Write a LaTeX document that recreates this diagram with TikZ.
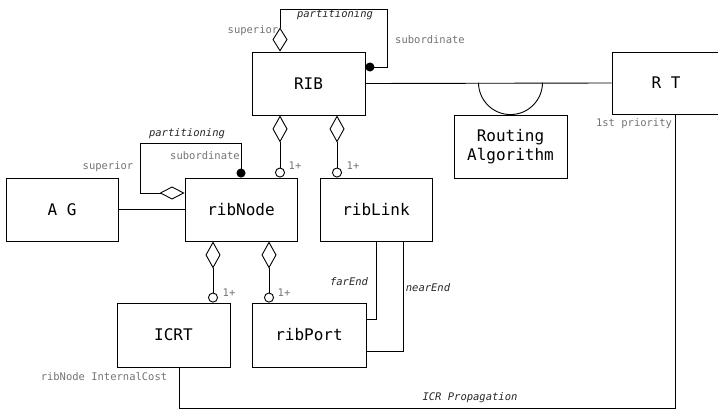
\documentclass[tikz,border=0pt]{standalone}
\usepackage{fontspec}
\setmonofont{DejaVu Sans Mono}
\usetikzlibrary{arrows.meta}
\begin{document}
\begin{tikzpicture}[x=1pt,y=-1pt,line width=0.9pt,
    cls/.style={draw,minimum width=113pt,minimum height=63pt,inner sep=0pt,align=center,font=\ttfamily\fontsize{16}{19}\selectfont},
    role/.style={inner sep=0pt,text=black!55,font=\ttfamily\fontsize{10.5}{12}\selectfont},
    assoc/.style={inner sep=0pt,text=black!85,font=\ttfamily\itshape\fontsize{10.5}{12}\selectfont},
    agg/.style={{Diamond[open,length=27pt,width=15pt]}-{Circle[open,length=10pt]}}]
\useasboundingbox (0,0) rectangle (718,410);
\node[cls] (RIB) at (308.5,83.5) {RIB};
\node[cls,minimum width=108pt,minimum height=62pt] (RT) at (666,83) {R T};
\node[cls] (RA) at (510.5,146.5) {Routing\\Algorithm};
\node[cls,minimum width=112pt] (AG) at (62,209.5) {A G};
\node[cls,minimum width=112pt] (Node) at (241,209.5) {ribNode};
\node[cls,minimum width=112pt] (Link) at (376,209.5) {ribLink};
\node[cls,minimum height=64pt] (ICRT) at (173.5,335) {ICRT};
\node[cls,minimum width=114pt,minimum height=64pt] (Port) at (309,335) {ribPort};
\draw[{Diamond[open,length=24pt,width=15pt]}-{Circle[length=9pt]}] ([xshift=-28.5pt]RIB.north) |- (387,9) |- ([yshift=16.5pt]RIB.east);
\draw (RIB.east) -- (RT.west);
\draw (RA.north) ++(-32,-32) arc[start angle=180,end angle=0,radius=32];
\draw (AG.east) -- (Node.west);
\draw[{Circle[length=9pt]}-{Diamond[open,length=25pt,width=13pt]}] (Node.north) |- (140,143) |- ([yshift=16.5pt]Node.west);
\draw[agg] ([xshift=-28.5pt]RIB.south) -- ([xshift=39pt]Node.north);
\draw[agg] ([xshift=28.5pt]RIB.south) -- ([xshift=-39pt]Link.north);
\draw[agg] ([xshift=-28pt]Node.south) -- ([xshift=39.5pt]ICRT.north);
\draw[agg] ([xshift=28pt]Node.south) -- ([xshift=-40pt]Port.north);
\draw (Link.south) |- ([yshift=16pt]Port.east);
\draw ([xshift=27pt]Link.south) |- ([yshift=-16pt]Port.east);
\draw ([xshift=6pt]ICRT.south) -- ++(0,41) -| ([xshift=9pt]RT.south);
\node[assoc] (part1) at (335,15) {partitioning};
\node[role] (sup1) at (253,31) {superior};
\node[role] (sub1) at (430,40) {subordinate};
\node[assoc] (part2) at (187,134) {partitioning};
\node[role] (sub2) at (205,156) {subordinate};
\node[role] (sup2) at (108,167) {superior};
\node[role] (n1) at (295,166) {1+};
\node[role] (n2) at (353,166) {1+};
\node[role] (n3) at (229,293) {1+};
\node[role] (n4) at (284,293) {1+};
\node[assoc] (far) at (349,282) {farEnd};
\node[assoc] (near) at (428,288) {nearEnd};
\node[role] (cost) at (104,377) {ribNode InternalCost};
\node[assoc] (icr) at (470,398) {ICR Propagation};
\node[role] (prio) at (634,124) {1st priority};
\end{tikzpicture}
\end{document}
